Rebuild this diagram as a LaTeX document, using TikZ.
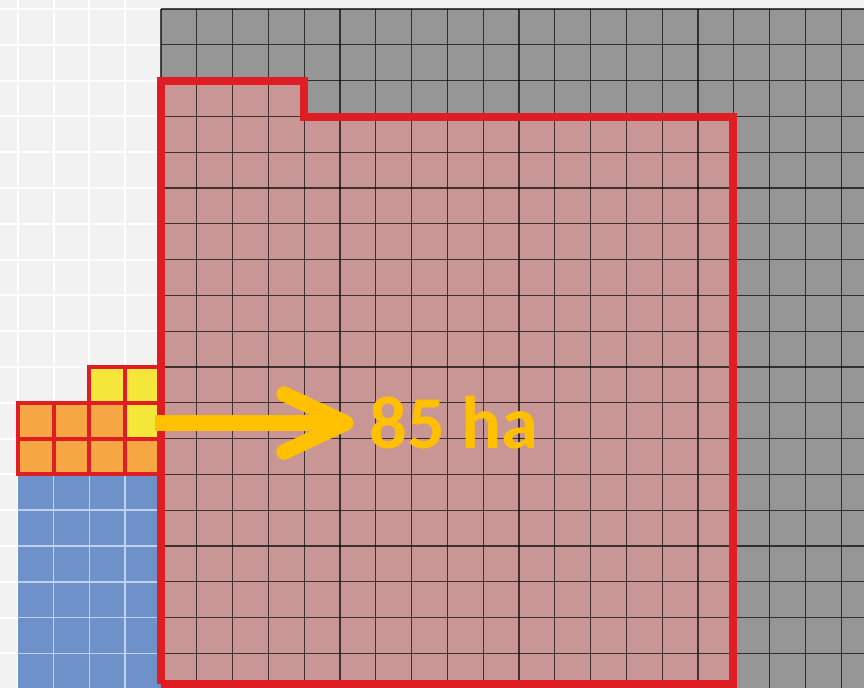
\documentclass[tikz,border=0pt]{standalone}
\usepackage{fontspec}
\setmainfont{Carlito}
\definecolor{bgl}{RGB}{242,242,242}
\definecolor{greyc}{RGB}{150,150,150}
\definecolor{pinkc}{RGB}{201,150,150}
\definecolor{redc}{RGB}{222,30,36}
\definecolor{bluec}{RGB}{110,145,201}
\definecolor{bluel}{RGB}{190,210,240}
\definecolor{orangec}{RGB}{246,166,66}
\definecolor{yellowc}{RGB}{245,230,58}
\definecolor{goldc}{RGB}{255,192,0}
\tikzset{
  gridline/.style={draw=black, opacity=0.68, line width=0.9pt},
  whiteline/.style={draw=white, line width=1.5pt},
  blueline/.style={draw=bluel, line width=1.3pt},
  redoutline/.style={draw=redc, line width=6.5pt, line join=miter},
  cellborder/.style={draw=redc, line width=3pt},
  arrowline/.style={draw=goldc, line width=11.5pt},
}
\begin{document}
\begin{tikzpicture}[x=0.75pt,y=-0.75pt]
\useasboundingbox (0,0) rectangle (864,688);
\fill[bgl] (0,0) rectangle (864,688);
% light grid on left
\foreach \i in {-5,...,-1} {
  \draw[whiteline] ({161+35.8*\i},0) -- ({161+35.8*\i},688);
}
\foreach \j in {-1,...,19} {
  \draw[whiteline] (0,{9+35.8*\j}) -- (161,{9+35.8*\j});
}
% grey field
\fill[greyc] (161,9) rectangle (864,688);
% red area
\fill[pinkc] (161,81) -- (304,81) -- (304,117) -- (733,117) -- (733,684) -- (161,684) -- cycle;
% dark grid
\foreach \i in {0,...,19} {
  \draw[gridline] ({161+35.8*\i},9) -- ({161+35.8*\i},688);
}
\foreach \j in {0,...,19} {
  \draw[gridline] (161,{9+35.8*\j}) -- (864,{9+35.8*\j});
}
\draw[redoutline] (161,81) -- (304,81) -- (304,117) -- (733,117) -- (733,684) -- (161,684) -- cycle;
% blue block
\fill[bluec] (17.8,474.4) rectangle (161,688);
\foreach \x in {53.6,89.4,125.2} {
  \draw[blueline] (\x,474.4) -- (\x,688);
}
\foreach \j in {14,...,18} {
  \draw[blueline] (17.8,{9+35.8*\j}) -- (157,{9+35.8*\j});
}
% orange and yellow cells
\foreach \c/\r/\col in {-2/10/yellowc,-1/10/yellowc,-1/11/yellowc,-4/11/orangec,-3/11/orangec,-2/11/orangec,-4/12/orangec,-3/12/orangec,-2/12/orangec,-1/12/orangec} {
  \filldraw[fill=\col, cellborder] ({161+35.8*\c},{9+35.8*\r}) rectangle ({161+35.8*(\c+1)},{9+35.8*(\r+1)});
}
\draw[redoutline] (161,81) -- (161,684);
% arrow
\coordinate (s) at (155,423);
\coordinate (t) at (346,423);
\coordinate (h1) at (284,394);
\coordinate (h2) at (284,452);
\draw[arrowline] (s) -- (t);
\draw[arrowline, line cap=round, line join=round] (h1) -- (t) -- (h2);
\node[anchor=base west, inner sep=0pt, text=goldc, font=\fontsize{56}{60}\selectfont\bfseries] (lbl) at (369,448) {85 ha};
\end{tikzpicture}
\end{document}
